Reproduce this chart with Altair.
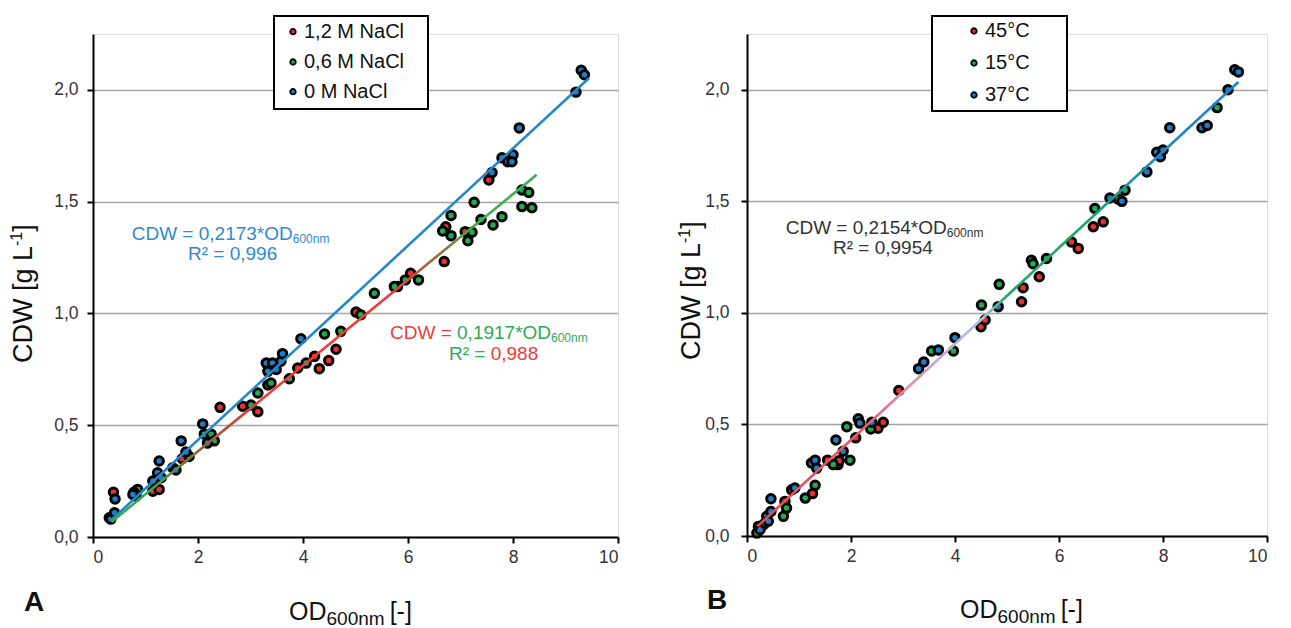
import altair as alt
import pandas as pd

FONT = "Liberation Sans"
RED = "#ee2f2f"
GREEN = "#1fae4f"
BLUE = "#1f7fc6"
TXT = "#333333"

# ---------------- Panel A: NaCl ----------------
a_red_x = [0.39, 1.14, 1.26, 1.52, 1.70, 2.42, 2.85, 3.14, 3.90, 4.22, 4.31, 4.49, 4.63,
           5.01, 5.80, 6.05, 6.69, 6.72, 7.09, 7.54]
a_red_y = [0.20, 0.205, 0.213, 0.31, 0.35, 0.58, 0.585, 0.56, 0.756, 0.808, 0.753, 0.789, 0.84,
           1.006, 1.12, 1.18, 1.232, 1.388, 1.366, 1.597]
a_green_x = [0.85, 0.82, 1.83, 2.12, 2.25, 2.31, 3.01, 3.14, 3.33, 3.39, 3.74, 4.06, 4.41, 4.72,
             5.10, 5.36, 5.74, 5.95, 6.20, 6.66, 6.82, 6.82, 7.14, 7.22, 7.26, 7.39, 7.62, 7.79,
             8.17, 8.30, 8.17, 8.36]
a_green_y = [0.213, 0.183, 0.36, 0.46, 0.46, 0.43, 0.59, 0.644, 0.68, 0.689, 0.708, 0.778, 0.908, 0.92,
             0.994, 1.09, 1.12, 1.15, 1.15, 1.369, 1.438, 1.348, 1.325, 1.363, 1.497, 1.42, 1.396, 1.433,
             1.552, 1.541, 1.478, 1.473]
a_blue_x = [0.31, 0.34, 0.41, 0.42, 0.78, 0.76, 1.14, 1.23, 1.30, 1.26, 1.58, 1.68, 1.77, 2.09, 2.18,
            3.30, 3.42, 3.58, 3.49, 3.33, 3.61, 3.96, 7.60, 7.79, 7.90, 8.00, 7.98, 8.12, 9.20, 9.30, 9.36]
a_blue_y = [0.086, 0.08, 0.108, 0.17, 0.20, 0.19, 0.25, 0.287, 0.265, 0.34, 0.30, 0.43, 0.38, 0.506, 0.42,
            0.778, 0.778, 0.786, 0.749, 0.741, 0.82, 0.887, 1.63, 1.696, 1.679, 1.71, 1.679, 1.83, 1.99, 2.088, 2.068]
a_legend = ["1,2 M NaCl", "0,6 M NaCl", "0 M NaCl"]
# trendline end points (x, y)
a_blue_line_x = [0.35, 9.45]
a_blue_line_y = [0.076, 2.053]
a_rg_line_x = [0.35, 8.45]
a_rg_line_y = [0.067, 1.620]

# ---------------- Panel B: temperature ----------------
b_red_x = [0.22, 0.31, 0.73, 1.26, 1.55, 1.75, 1.77, 2.09, 2.52, 2.62, 2.92, 4.50, 4.58, 5.28, 5.31,
           5.62, 6.24, 6.37, 6.66, 6.85]
b_red_y = [0.043, 0.05, 0.155, 0.19, 0.34, 0.32, 0.337, 0.44, 0.483, 0.51, 0.652, 0.938, 0.968, 1.05, 1.113,
           1.162, 1.318, 1.289, 1.386, 1.408]
b_green_x = [0.19, 0.70, 0.76, 1.12, 1.31, 1.66, 1.92, 1.98, 2.38, 3.55, 3.97, 4.51, 4.85, 5.47, 5.50,
             5.76, 6.69, 7.14, 7.27, 9.04]
b_green_y = [0.013, 0.088, 0.125, 0.17, 0.227, 0.32, 0.49, 0.34, 0.48, 0.829, 0.829, 1.035, 1.128, 1.236, 1.22,
             1.244, 1.468, 1.51, 1.55, 1.92]
b_blue_x = [0.25, 0.35, 0.38, 0.41, 0.46, 0.46, 0.86, 0.92, 1.24, 1.31, 1.34, 1.71, 1.85, 2.14, 2.17, 2.40,
            3.30, 3.40, 3.68, 4.00, 4.83, 6.98, 7.21, 7.69, 7.88, 7.95, 8.00, 8.13, 8.75, 8.85, 9.25, 9.38, 9.45]
b_blue_y = [0.028, 0.058, 0.088, 0.066, 0.11, 0.167, 0.207, 0.215, 0.327, 0.34, 0.304, 0.43, 0.38, 0.525, 0.506, 0.51,
            0.75, 0.78, 0.834, 0.889, 1.028, 1.515, 1.50, 1.632, 1.72, 1.70, 1.73, 1.83, 1.83, 1.84, 2.0, 2.09, 2.08]
b_legend = ["45\u00b0C", "15\u00b0C", "37\u00b0C"]
b_line_x = [0.20, 9.45]
b_line_y = [0.043, 2.035]

X_TICKS = [0, 2, 4, 6, 8, 10]
Y_TICKS = [0, 0.5, 1.0, 1.5, 2.0]

DUMMY = pd.DataFrame({"d": [0]})
TICK_FS = 17.5


def xenc():
    return alt.X("x:Q", scale=alt.Scale(domain=[0, 10], nice=False, zero=False),
                 axis=alt.Axis(values=X_TICKS, title=None, grid=False, labelFont=FONT,
                               labelFontSize=TICK_FS, labelColor=TXT, labelPadding=5,
                               domainColor="black", domainWidth=2, tickColor="black",
                               tickWidth=2, tickSize=6))


def yenc(pad):
    return alt.Y("y:Q", scale=alt.Scale(domain=[0, 2.25], nice=False),
                 axis=alt.Axis(values=Y_TICKS, title=None, grid=True, gridColor="#a3a3a3",
                               gridWidth=1.5, labelExpr="replace(format(datum.value, '.1f'), '.', ',')",
                               labelFont=FONT, labelFontSize=TICK_FS, labelColor=TXT, labelPadding=pad,
                               domainColor="black", domainWidth=2, tickColor="black",
                               tickWidth=2, tickSize=6))


def txt(s, x, y, size, color=TXT, align="left", baseline="alphabetic", angle=0, bold=False):
    kw = dict(text=s, font=FONT, fontSize=size, color=color, align=align, baseline=baseline)
    if angle:
        kw["angle"] = angle
    if bold:
        kw["fontWeight"] = "bold"
    return alt.Chart(DUMMY).mark_text(**kw).encode(x=alt.value(x), y=alt.value(y))


def points(xr, yr, xg, yg, xb, yb, pad):
    df = pd.concat([
        pd.DataFrame({"x": xr, "y": yr, "c": RED}),
        pd.DataFrame({"x": xg, "y": yg, "c": GREEN}),
        pd.DataFrame({"x": xb, "y": yb, "c": BLUE}),
    ], ignore_index=True)
    return alt.Chart(df).mark_circle(size=72, stroke="black", strokeWidth=3, opacity=1).encode(
        x=xenc(), y=yenc(pad), color=alt.Color("c:N", scale=None))


def line(xv, yv, color, pad):
    return alt.Chart(pd.DataFrame({"x": xv, "y": yv})).mark_line(
        color=color, strokeWidth=2.6).encode(x=xenc(), y=yenc(pad))


def grad(stops):
    return {"gradient": "linear", "x1": 0, "x2": 1, "y1": 0, "y2": 0,
            "stops": [{"offset": o, "color": c} for o, c in stops]}


def legend(x0, x1, y0, y1, dot_x, rows_y, labels):
    layers = [alt.Chart(DUMMY).mark_rect(fill="white", stroke="black", strokeWidth=2).encode(
        x=alt.value(x0), x2=alt.value(x1), y=alt.value(y0), y2=alt.value(y1))]
    for lab, col, ry in zip(labels, [RED, GREEN, BLUE], rows_y):
        layers.append(alt.Chart(DUMMY).mark_circle(size=30, fill=col, stroke="black",
                                                   strokeWidth=1.8, opacity=1).encode(
            x=alt.value(dot_x), y=alt.value(ry)))
        layers.append(txt(lab, dot_x + 11, ry, 20, color="#111", baseline="middle"))
    return layers


def axis_titles(xt_left, xt_base, yt_x, yt_bottom, letter, lx, ly):
    # x title: OD + subscript 600nm + [-]
    f_od, f_sub = 25, 19
    w_od = 1.5 * f_od
    w_sub = 3.06 * f_sub
    L = [
        txt("OD", xt_left, xt_base, f_od, color="#111"),
        txt("600nm", xt_left + w_od, xt_base + 5, f_sub, color="#111"),
        txt("[-]", xt_left + w_od + w_sub + 5, xt_base, f_od, color="#111"),
    ]
    # y title (rotated): CDW [g L + superscript -1 + ]
    f_t, f_sup = 27, 16
    w1 = 4.334 * f_t
    w2 = 0.889 * f_sup
    L += [
        txt("CDW [g L", yt_x, yt_bottom, f_t, color="#111", baseline="middle", angle=270),
        txt("-1", yt_x - 7, yt_bottom - w1, f_sup, color="#111", baseline="middle", angle=270),
        txt("]", yt_x, yt_bottom - w1 - w2, f_t, color="#111", baseline="middle", angle=270),
    ]
    L.append(txt(letter, lx, ly, 28, color="#111", align="center", baseline="middle", bold=True))
    return L


W_A, H_A = 525, 503
W_B, H_B = 520, 502
PAD_A = 9
PAD_B = 12
EQ = 19
SUB = 12

# ---------- Panel A ----------
a_rg_grad = grad([(0, "#2eb052"), (0.1, "#3aa84e"), (0.2, "#8a6a38"), (0.3, "#c44a32"),
                  (0.36, "#ee3a36"), (0.66, "#ee3a36"), (0.76, "#9a6a3a"), (0.86, "#3cb050"),
                  (1, "#3cb050")])
a_layers = [points(a_red_x, a_red_y, a_green_x, a_green_y, a_blue_x, a_blue_y, PAD_A),
            line(a_blue_line_x, a_blue_line_y, "#2288cc", PAD_A),
            line(a_rg_line_x, a_rg_line_y, a_rg_grad, PAD_A)]
a_layers += legend(181, 335, -18, 75, 200, [-2.3, 28, 57.7], a_legend)
# blue equation
a_layers += [
    txt("CDW = 0,2173*OD", 38.7, 206, EQ, color="#2e8bd0"),
    txt("600nm", 38.7 + 8.475 * EQ, 209, SUB, color="#2e8bd0"),
    txt("R\u00b2 = 0,996", 95, 226, EQ, color="#2e8bd0"),
]
# red/green equation
a_layers += [
    txt("CDW = ", 297, 305, EQ, color="#ee3b3b"),
    txt("0,1917*OD", 297 + 3.528 * EQ, 305, EQ, color="#2faa55"),
    txt("600nm", 297 + 8.475 * EQ, 308, SUB, color="#2faa55"),
    txt("R\u00b2 = ", 356, 326, EQ, color="#2faa55"),
    txt("0,988", 356 + 2.195 * EQ, 326, EQ, color="#ee3b3b"),
]
a_layers += axis_titles(196, 586, -69, 329, "A", -59, 569)
chart_a = alt.layer(*a_layers).properties(width=W_A, height=H_A)

# ---------- Panel B ----------
b_grad = grad([(0, "#e84a52"), (0.22, "#e65a66"), (0.3, "#d890a8"), (0.4, "#b8b4dc"),
               (0.47, "#b0c0dc"), (0.52, "#22a860"), (0.68, "#1aa868"), (0.76, "#1a9a9a"),
               (0.84, "#1f84c8"), (1, "#1f84c8")])
b_layers = [points(b_red_x, b_red_y, b_green_x, b_green_y, b_blue_x, b_blue_y, PAD_B),
            line(b_line_x, b_line_y, b_grad, PAD_B)]
b_layers += legend(185, 320, -18, 77, 227, [-3, 29, 61], b_legend)
b_layers += [
    txt("CDW = 0,2154*OD", 38.7, 200, EQ, color=TXT),
    txt("600nm", 38.7 + 8.475 * EQ, 203, SUB, color=TXT),
    txt("R\u00b2 = 0,9954", 86, 220, EQ, color=TXT),
]
b_layers += axis_titles(213, 584, -55, 326, "B", -30, 567)
chart_b = alt.layer(*b_layers).properties(width=W_B, height=H_B)

chart = alt.hconcat(chart_a, chart_b, spacing=56).properties(
    padding={"left": 8, "top": 14, "right": 5, "bottom": 5}
).configure_view(stroke="black", strokeWidth=2).configure(background="white")

chart.save("out.html", embed_options={"renderer": "svg", "actions": False})
